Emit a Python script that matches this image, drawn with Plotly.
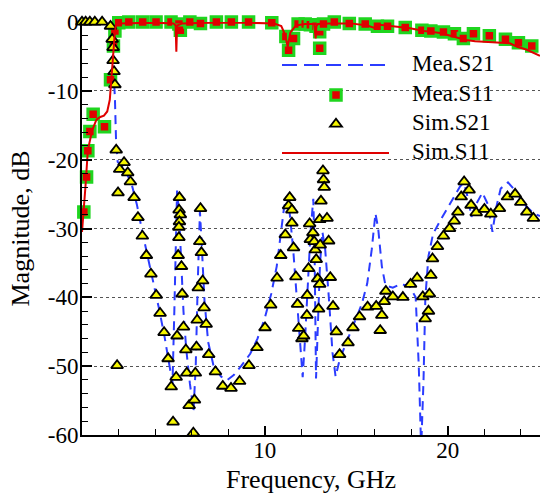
import plotly.graph_objects as go

# ---------------- data (frequency in GHz, magnitude in dB) ----------------
mea_s21_f = [1.72, 1.8, 1.86, 1.95, 2.15, 2.4, 2.7, 3.0, 3.3, 3.6, 3.9, 4.2, 4.5, 4.75, 4.95,
             5.05, 5.12, 5.2, 5.3, 5.45, 5.55, 5.7, 5.9, 6.1, 6.22, 6.33, 6.45, 6.55, 6.7, 6.9,
             7.2, 7.6, 7.95, 8.3, 8.7, 9.2, 9.6, 10.0, 10.35, 10.65, 10.9, 11.05, 11.2, 11.35,
             11.55, 11.75, 11.92, 12.07, 12.2, 12.35, 12.5, 12.65, 12.72, 12.8, 12.9, 13.02,
             13.15, 13.3, 13.5, 13.7, 13.87, 14.1, 14.5, 14.9, 15.3, 15.6, 15.85, 16.05, 16.2,
             16.4, 16.6, 17.0, 17.4, 17.9, 18.25, 18.42, 18.55, 18.68, 18.78, 18.95, 19.2, 19.6,
             20.0, 20.4, 20.7, 20.9, 21.1, 21.3, 21.55, 21.9, 22.2, 22.45, 22.65, 22.9, 23.3,
             23.7, 24.2, 24.7, 25.05]
mea_s21_db = [-7, -11, -17, -20.3, -20.8, -21.8, -23.4, -26.5, -30.5, -34.2, -37.5, -41.5, -45.5,
              -49.5, -52.5, -42, -31, -24.5, -27.5, -36.5, -42, -47.5, -52.5, -56.4, -50, -38,
              -27.5, -32.5, -40.5, -46.5, -50, -51.5, -52, -51.3, -50, -48.2, -46, -43, -39.5,
              -35.5, -30.5, -27, -25.3, -27.5, -33, -40, -46, -51.6, -46, -38, -30.5, -25.7, -33,
              -51.8, -45, -35, -30.5, -33, -40, -48, -51.5, -49, -46.3, -43.5, -41, -38, -33,
              -27.8, -30, -35.5, -38.3, -38.6, -38.1, -38.3, -40, -50, -62, -52, -40, -34, -30.8,
              -28.8, -27, -25, -23.8, -23.5, -25.5, -28.3, -26.5, -24.8, -26.5, -30.5, -27, -24.2,
              -23.3, -24.5, -26.5, -27.8, -28.2]

mea_s11_f = [0.1, 0.25, 0.32, 0.43, 0.61, 1.23, 1.56, 1.72, 1.8, 2.01, 2.56, 3.32, 4.05, 4.87,
             5.3, 5.38, 5.9, 6.48, 7.35, 8.17, 9.11, 10.38, 11.15, 11.3, 11.57, 11.82, 12.21,
             12.49, 12.8, 13.0, 13.0, 13.21, 13.8, 14.62, 15.49, 16.16, 16.71, 17.68, 18.59,
             19.08, 19.77, 20.37, 20.86, 21.41, 22.28, 23.16, 23.87, 24.6]
mea_s11_db = [-27.6, -22.5, -18.7, -15.9, -13.4, -15.2, -8.4, -3.5, -1.3, -0.1, 0, 0, 0, 0,
              -0.3, -1.2, 0, -0.2, 0, 0, 0, -0.1, -2.1, -4.1, -2.4, -0.3, -0.3, -0.4, -0.6,
              -1.4, -3.8, -0.3, 0, -0.2, -0.3, -0.6, -0.6, -0.8, -1.2, -1.3, -1.45, -1.7, -2.4,
              -1.7, -2.0, -2.5, -3.0, -3.5]

sim_s21_f = [0.0, 0.2, 0.43, 0.7, 1.1, 1.56, 1.65, 1.7, 1.7, 1.75, 1.8, 1.87, 1.92, 1.97, 2.06,
             2.3, 2.5, 2.65, 2.85, 3.06, 3.3, 3.52, 3.77, 4.06, 4.27, 4.49, 4.71, 4.88, 4.98,
             5.15, 5.2, 5.33, 5.31, 5.38, 5.33, 5.3, 5.3, 5.26, 5.44, 5.48, 5.55, 5.68, 5.73,
             5.86, 6.09, 6.15, 6.2, 6.26, 6.3, 6.36, 6.44, 6.48, 6.53, 6.6, 6.68, 6.79, 6.93,
             7.3, 7.7, 8.15, 8.62, 9.13, 9.57, 10.01, 10.32, 10.67, 10.87, 11.12, 11.3, 11.36,
             11.48, 11.48, 11.57, 11.7, 11.79, 11.85, 12.03, 12.12, 12.3, 12.32, 12.39, 12.45,
             12.49, 12.63, 12.7, 12.76, 12.81, 12.89, 12.94, 13.0, 13.0, 13.03, 13.07, 13.18,
             13.21, 13.25, 13.4, 13.49, 13.58, 13.73, 13.91, 14.09, 14.55, 14.82, 15.18, 15.62,
             16.09, 16.31, 16.4, 16.53, 16.62, 17.0, 17.55, 17.97, 18.33, 18.64, 18.77, 18.95,
             19.0, 19.08, 19.17, 19.44, 19.77, 20.1, 20.36, 20.56, 20.74, 20.9, 21.17, 21.28,
             21.56, 22.01, 22.36, 22.83, 23.27, 23.69, 24.0, 24.33, 24.69]
sim_s21_db = [0, 0, 0, 0, 0, -0.6, -2.5, -3.7, -5.6, -7.2, -9.1, -18.6, -49.9, -24.8, -21.4,
              -20.4, -21.9, -23.2, -25.5, -28.4, -31.1, -33.9, -36.6, -39.7, -42.3, -45.1, -48.9,
              -53.0, -58.1, -51.6, -45.6, -25.5, -27.3, -28.0, -29.0, -29.8, -31.3, -33.9, -35.5,
              -39.5, -44.3, -47.6, -51.0, -55.7, -59.7, -54.9, -51.0, -47.2, -43.3, -38.6, -31.9,
              -27.1, -33.5, -37.6, -41.5, -43.9, -48.3, -50.8, -52.9, -53.2, -52.2, -49.9, -47.3,
              -44.4, -41.1, -37.2, -33.9, -30.9, -26.7, -25.5, -27.3, -29.2, -32.8, -37.0, -41.0,
              -44.5, -46.0, -45.6, -42.6, -39.7, -35.8, -29.3, -31.6, -30.6, -31.9, -33.1, -34.5,
              -37.3, -41.7, -38.1, -28.7, -32.4, -26.0, -21.6, -22.9, -24.0, -28.5, -31.8, -37.1,
              -41.3, -45.0, -48.3, -46.6, -44.4, -42.8, -41.4, -41.3, -44.8, -42.6, -40.6, -39.1,
              -39.9, -40.0, -38.1, -37.2, -39.9, -43.1, -42.0, -39.5, -36.8, -34.4, -32.6, -31.1,
              -30.0, -28.9, -27.6, -25.4, -23.2, -24.4, -26.6, -27.7, -27.2, -27.9, -27.1, -25.4,
              -25.0, -26.2, -27.6, -28.5]

sim_s11_f = [0, 0.1, 0.19, 0.32, 0.45, 0.56, 0.79, 1.0, 1.2, 1.38, 1.52, 1.6, 1.7, 1.78, 1.85,
             2.0, 3.0, 4.0, 5.0, 5.12, 5.16, 5.2, 5.5, 7.0, 9.0, 10.5, 10.9, 11.1, 11.25, 11.4,
             11.7, 12.2, 12.7, 12.78, 12.82, 12.9, 13.5, 14.7, 15.6, 16.04, 16.3, 16.6, 17.2,
             17.95, 18.7, 19.6, 20.3, 21.0, 21.5, 22.0, 22.7, 23.4, 23.8, 24.3, 25.05]
sim_s11_db = [-30.5, -27.5, -23.9, -18.6, -16.8, -15.7, -14.2, -13.8, -13.6, -13.0, -11.3, -8.9,
              -5.0, -2.1, -0.5, -0.2, -0.1, -0.1, -0.2, -0.5, -4.3, -0.5, -0.2, -0.1, -0.1,
              -0.2, -0.6, -1.8, -3.6, -1.5, -0.5, -0.3, -0.3, -2.4, -0.6, -0.3, -0.2, -0.2,
              -0.5, -0.9, -0.4, -0.5, -0.7, -0.9, -1.3, -1.6, -2.1, -2.6, -2.8, -2.9, -3.0,
              -3.1, -3.6, -4.0, -4.9]

x_major = [10, 20]
x_minor = [2, 4, 6, 8, 12, 14, 16, 18, 22, 24]
y_major = [-60, -50, -40, -30, -20, -10, 0]
y_labels = ["-60", "-50", "-40", "-30", "-20", "-10", "0"]
y_minor = [v for v in range(-58, 0, 2) if v % 10 != 0]

legend_names = ["Mea.S21", "Mea.S11", "Sim.S21", "Sim.S11"]

# ---------------- styling ----------------
FONT = "Times New Roman, Liberation Serif, serif"
RED = "#e00000"
GREEN = "#1fd51f"
BLUE = "#2b3cff"
YELLOW = "#f5f500"

W, H = 540, 493
ML, MR, MT, MB = 82, 0, 22, 58
PW, PH = W - ML - MR, H - MT - MB


def fx(px):
    return (px - ML) / PW


def fy(py):
    return (H - MB - py) / PH


fig = go.Figure()

fig.add_trace(go.Scatter(
    x=mea_s21_f, y=mea_s21_db, mode="lines", name=legend_names[0],
    line=dict(color=BLUE, width=2, dash="9px,6px"), showlegend=False))

fig.add_trace(go.Scatter(
    x=mea_s11_f, y=mea_s11_db, mode="markers", name=legend_names[1], cliponaxis=False,
    marker=dict(symbol="square", size=10.5, color=RED, line=dict(color=GREEN, width=3)),
    showlegend=False))

fig.add_trace(go.Scatter(
    x=sim_s21_f, y=sim_s21_db, mode="markers", name=legend_names[2], cliponaxis=False,
    marker=dict(symbol="triangle-up", size=10.5, color=YELLOW, line=dict(color="black", width=1.8)),
    showlegend=False))

fig.add_trace(go.Scatter(
    x=sim_s11_f, y=sim_s11_db, mode="lines", name=legend_names[3],
    line=dict(color=RED, width=2), showlegend=False))

# ---------------- hand-drawn legend ----------------
rows_y = [65, 95, 124, 153]
line_x0, line_x1, sym_x, text_x = 282, 389, 336, 410
shapes = [
    dict(type="line", xref="paper", yref="paper",
         x0=fx(line_x0), x1=fx(line_x1), y0=fy(rows_y[0]), y1=fy(rows_y[0]),
         line=dict(color=BLUE, width=2, dash="15px,7px")),
    dict(type="rect", xref="paper", yref="paper", xsizemode="pixel", ysizemode="pixel",
         xanchor=fx(sym_x), yanchor=fy(rows_y[1]), x0=-5.25, x1=5.25, y0=-5.25, y1=5.25,
         fillcolor=RED, line=dict(color=GREEN, width=3)),
    dict(type="path", xref="paper", yref="paper", xsizemode="pixel", ysizemode="pixel",
         xanchor=fx(sym_x), yanchor=fy(rows_y[2]),
         path="M-6,-2.6 L6,-2.6 L0,5.25 Z",
         fillcolor=YELLOW, line=dict(color="black", width=1.8)),
    dict(type="line", xref="paper", yref="paper",
         x0=fx(line_x0), x1=fx(line_x1), y0=fy(rows_y[3]), y1=fy(rows_y[3]),
         line=dict(color=RED, width=2)),
]
annotations = [
    dict(text=name, xref="paper", yref="paper", x=fx(text_x), y=fy(yy) + 0.004,
         xanchor="left", yanchor="middle", showarrow=False,
         font=dict(family=FONT, size=23, color="black"))
    for name, yy in zip(legend_names, rows_y)
]
annotations.append(dict(text="Frequency, GHz", xref="paper", yref="paper", x=0.5, y=fy(479),
                        xanchor="center", yanchor="middle", showarrow=False,
                        font=dict(family=FONT, size=26, color="black")))
annotations.append(dict(text="Magnitude, dB", xref="paper", yref="paper", x=fx(20), y=0.5,
                        xanchor="center", yanchor="middle", showarrow=False, textangle=-90,
                        font=dict(family=FONT, size=26, color="black")))

fig.update_layout(
    width=W, height=H,
    margin=dict(l=ML, r=MR, t=MT, b=MB),
    paper_bgcolor="white", plot_bgcolor="white",
    font=dict(family=FONT, size=23, color="black"),
    shapes=shapes, annotations=annotations,
    showlegend=False,
)

fig.update_xaxes(
    range=[0, 25.05], showline=True, linecolor="black", linewidth=2, mirror=False,
    showgrid=False, zeroline=False,
    tickmode="array", tickvals=x_major, ticktext=[str(v) for v in x_major],
    ticks="inside", ticklen=9, tickwidth=2, tickcolor="black", ticklabelstandoff=-7,
    minor=dict(tickmode="array", tickvals=x_minor, ticks="inside", ticklen=6,
               tickwidth=1, tickcolor="black", showgrid=False),
    tickfont=dict(family=FONT, size=23, color="black"),
)
fig.update_yaxes(
    range=[-60, 0], showline=True, linecolor="black", linewidth=2, mirror=False,
    showgrid=True, gridcolor="#555555", gridwidth=1, griddash="dot", zeroline=False,
    tickmode="array", tickvals=y_major, ticktext=y_labels,
    ticks="inside", ticklen=10, tickwidth=2, tickcolor="black", ticklabelstandoff=-3,
    minor=dict(tickmode="array", tickvals=y_minor, ticks="inside", ticklen=6,
               tickwidth=1, tickcolor="black", showgrid=False),
    tickfont=dict(family=FONT, size=23, color="black"),
)

fig.write_html("out.html")
